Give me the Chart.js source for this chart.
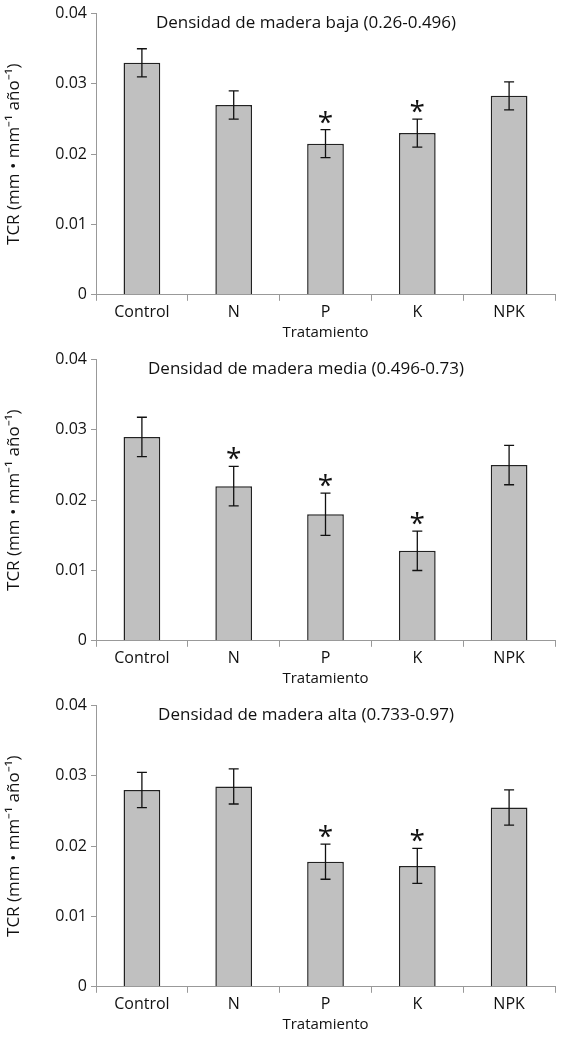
<!DOCTYPE html>
<html><head><meta charset="utf-8">
<script src="https://cdn.jsdelivr.net/npm/chart.js@4"></script>
<style>
body{margin:0;background:#fff;width:583px;height:1038px;overflow:hidden}
.w{position:relative;width:583px;height:346px}
</style></head><body>
<div class="w"><canvas id="c1"></canvas></div>
<div class="w"><canvas id="c2"></canvas></div>
<div class="w"><canvas id="c3"></canvas></div>
<script>
// data
const categories = ['Control', 'N', 'P', 'K', 'NPK'];
const yTicks = [0, 0.01, 0.02, 0.03, 0.04];
const titles = [
  'Densidad de madera baja (0.26-0.496)',
  'Densidad de madera media (0.496-0.73)',
  'Densidad de madera alta (0.733-0.97)'
];
const lowValues = [0.033, 0.027, 0.0215, 0.023, 0.0283];
const lowErrors = [0.002, 0.002, 0.002, 0.002, 0.002];
const lowSig = [false, false, true, true, false];
const midValues = [0.029, 0.022, 0.018, 0.0128, 0.025];
const midErrors = [0.0028, 0.0028, 0.003, 0.0028, 0.0028];
const midSig = [false, true, true, true, false];
const highValues = [0.028, 0.0285, 0.0178, 0.0172, 0.0255];
const highErrors = [0.0025, 0.0025, 0.0025, 0.0025, 0.0025];
const highSig = [false, false, true, true, false];

const FONT = 'Open Sans';
const AXIS = '#999';

const extras = {
  id: 'extras',
  afterDatasetsDraw(chart, args, opts) {
    const ctx = chart.ctx, x = chart.scales.x, y = chart.scales.y;
    ctx.save();
    ctx.strokeStyle = '#111';
    ctx.lineWidth = 1.3;
    opts.values.forEach((v, i) => {
      const cx = x.getPixelForValue(i);
      const top = y.getPixelForValue(v + opts.errors[i]);
      const bot = y.getPixelForValue(v - opts.errors[i]);
      ctx.beginPath();
      ctx.moveTo(cx, top); ctx.lineTo(cx, bot);
      ctx.moveTo(cx - 5, top); ctx.lineTo(cx + 5, top);
      ctx.moveTo(cx - 5, bot); ctx.lineTo(cx + 5, bot);
      ctx.stroke();
      if (opts.sig[i]) {
        ctx.fillStyle = '#111';
        ctx.font = '28px ' + FONT;
        ctx.textAlign = 'center';
        ctx.textBaseline = 'alphabetic';
        ctx.fillText('*', cx, top + 2);
      }
    });
    ctx.fillStyle = '#111';
    ctx.font = '17px ' + FONT;
    ctx.textAlign = 'center';
    ctx.textBaseline = 'middle';
    ctx.fillText(opts.title, 306, chart.chartArea.top + 10);
    ctx.restore();
  }
};

function makeChart(id, title, values, errors, sig, topPad) {
  new Chart(document.getElementById(id), {
    type: 'bar',
    data: {
      labels: categories,
      datasets: [{
        data: values,
        backgroundColor: '#c0c0c0',
        borderColor: '#222',
        borderWidth: 1.5,
        categoryPercentage: 1,
        barPercentage: 0.4
      }]
    },
    plugins: [extras],
    options: {
      responsive: true,
      maintainAspectRatio: false,
      animation: false,
      layout: { padding: { top: topPad, right: 28, left: 0, bottom: 0 } },
      plugins: {
        legend: { display: false },
        tooltip: { enabled: false },
        extras: { title, values, errors, sig }
      },
      scales: {
        x: {
          grid: { display: true, drawOnChartArea: false, offset: true, color: AXIS, tickLength: 6 },
          border: { color: AXIS, width: 1 },
          ticks: { color: '#111', font: { family: FONT, size: 16 }, padding: 2 },
          title: { display: true, text: 'Tratamiento', color: '#111', font: { family: FONT, size: 15 }, padding: { top: 0 } }
        },
        y: {
          min: 0, max: 0.04,
          afterBuildTicks: s => { s.ticks = yTicks.map(v => ({ value: v })); },
          afterFit: s => { s.width = 96; },
          grid: { drawOnChartArea: false, color: AXIS, tickLength: 5 },
          border: { color: AXIS, width: 1 },
          ticks: { color: '#111', font: { family: FONT, size: 16 }, padding: 4,
            callback: v => v === 0 ? '0' : String(+v.toFixed(2)) },
          title: { display: true, text: 'TCR (mm • mm⁻¹ año⁻¹)', color: '#111', font: { family: FONT, size: 17 }, padding: { bottom: 2 } }
        }
      }
    }
  });
}

makeChart('c1', titles[0], lowValues, lowErrors, lowSig, 12);
makeChart('c2', titles[1], midValues, midErrors, midSig, 10);
makeChart('c3', titles[2], highValues, highErrors, highSig, 13);
</script>
</body></html>
